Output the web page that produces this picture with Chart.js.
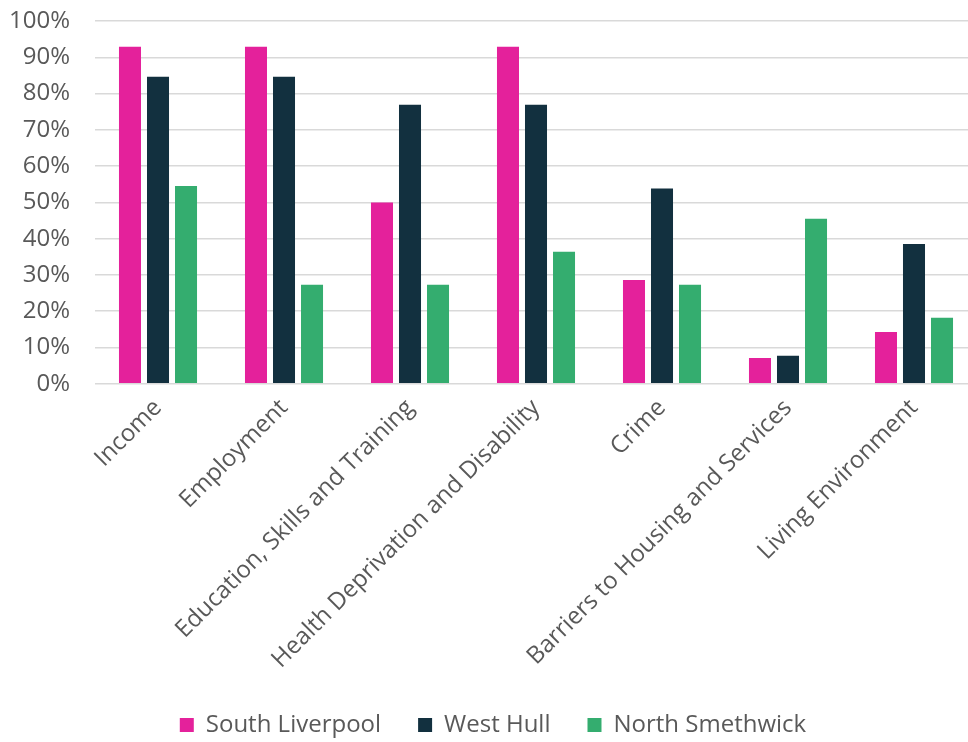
<!DOCTYPE html>
<html lang="en">
<head>
  <meta charset="UTF-8">
  <title>Deprivation domains</title>
  <script src="https://cdn.jsdelivr.net/npm/chart.js"></script>
  <style>
    html, body {
      margin: 0;
      padding: 0;
      background: #fff;
      overflow: hidden;
    }
    /* the original chart is wider than the picture and cut at the right edge */
    #chartBox {
      width: 968px;
      height: 742px;
      overflow: hidden;
    }
    #wrap {
      width: 1008px;
      height: 742px;
    }
  </style>
</head>
<body>
  <div id="chartBox">
    <div id="wrap">
      <canvas id="domainChart"></canvas>
    </div>
  </div>
  <script>
    // domains and share of areas per domain (%)
    const domains = [
      'Income',
      'Employment',
      'Education, Skills and Training',
      'Health Deprivation and Disability',
      'Crime',
      'Barriers to Housing and Services',
      'Living Environment'
    ];
    const southLiverpool = [92.9, 92.9, 50.0, 92.9, 28.6, 7.1, 14.3];
    const westHull = [84.6, 84.6, 76.9, 76.9, 53.8, 7.7, 38.5];
    const northSmethwick = [54.5, 27.3, 27.3, 36.4, 27.3, 45.5, 18.2];
    const yTicks = [0, 10, 20, 30, 40, 50, 60, 70, 80, 90, 100];

    Chart.defaults.font.family = '"Open Sans", sans-serif';
    Chart.defaults.font.size = 24;
    Chart.defaults.color = '#595959';

    const ctx = document.getElementById('domainChart').getContext('2d');
    new Chart(ctx, {
      type: 'bar',
      data: {
        labels: domains,
        datasets: [
          { label: 'South Liverpool', data: southLiverpool, backgroundColor: '#E4219B' },
          { label: 'West Hull', data: westHull, backgroundColor: '#12303F' },
          { label: 'North Smethwick', data: northSmethwick, backgroundColor: '#34AD6F' }
        ]
      },
      options: {
        responsive: true,
        maintainAspectRatio: false,
        animation: false,
        layout: { padding: { left: 9, top: 21, right: 31, bottom: -5 } },
        datasets: {
          bar: { categoryPercentage: 0.667, barPercentage: 0.786 }
        },
        plugins: {
          legend: {
            position: 'bottom',
            labels: { boxWidth: 14, boxHeight: 14, padding: 37 }
          },
          tooltip: { enabled: false }
        },
        scales: {
          x: {
            grid: { display: false },
            border: { display: false },
            ticks: { minRotation: 45, maxRotation: 45, padding: 2 },
            afterFit: axis => { axis.paddingLeft = 0; axis.paddingRight = 0; }
          },
          y: {
            min: 0,
            max: 100,
            afterBuildTicks: axis => { axis.ticks = yTicks.map(v => ({ value: v })); },
            // fit() counts the tick padding twice; keep only one
            afterFit: axis => {
              axis.width -= axis.options.ticks.padding;
              axis.paddingTop = 0;
              axis.paddingBottom = 0;
            },
            ticks: { callback: v => v + '%', padding: 25 },
            grid: { color: '#d9d9d9', lineWidth: 1.5, drawTicks: false },
            border: { display: false }
          }
        }
      }
    });
  </script>
</body>
</html>
